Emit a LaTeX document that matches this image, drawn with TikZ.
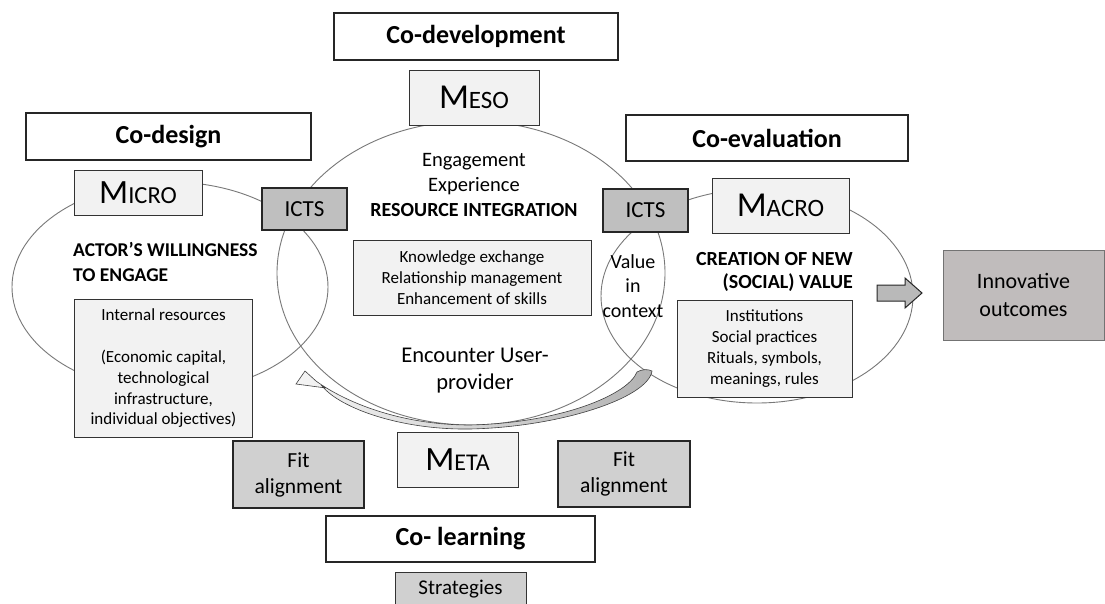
\documentclass[tikz,border=0pt]{standalone}
\usepackage{fontspec}
\setmainfont{Carlito}
\definecolor{lightbox}{RGB}{242,242,242}
\definecolor{ictsgray}{RGB}{191,191,191}
\definecolor{fitgray}{RGB}{208,208,208}
\definecolor{innogray}{RGB}{192,188,188}
\definecolor{ellgray}{RGB}{120,120,120}
\newcommand\lvltext[4]{{\fontsize{#1}{#1}\selectfont #3}{\fontsize{#2}{#2}\selectfont #4}}
\begin{document}
\begin{tikzpicture}[x=1pt,y=-1pt,
  hdr/.style={draw=black!85, line width=1.2pt, fill=white, inner sep=0pt, font=\fontsize{26}{30}\selectfont\bfseries},
  lvl/.style={draw=black!80, line width=1pt, fill=lightbox, inner sep=0pt},
  icts/.style={draw=black!85, line width=2.2pt, fill=ictsgray, inner sep=0pt, font=\fontsize{23}{26}\selectfont},
  info/.style={draw=black!80, line width=1pt, fill=lightbox, inner sep=0pt, align=center, font=\fontsize{17}{20.8}\selectfont},
  fitbox/.style={draw=black!85, line width=2pt, fill=fitgray, inner sep=0pt, align=center, font=\fontsize{21.5}{26}\selectfont},
  ell/.style={draw=ellgray, line width=0.9pt},
  plain/.style={inner sep=0pt, align=center}
]
\path[use as bounding box] (0,0) rectangle (1105,603);
\clip (0,0) rectangle (1105,603);
\fill[white] (0,0) rectangle (1105,603);

% ellipses
\draw[ell] (170,287) ellipse [x radius=158, y radius=105];
\draw[ell] (471,273) ellipse [x radius=194, y radius=152];
\draw[ell] (757,296) ellipse [x radius=156, y radius=107];

% curved band arrow
\shade[left color=gray!8, right color=gray!60, draw=black!75, line width=0.6pt]
  (652,371) .. controls (648,398) and (560,427) .. (470,429)
  .. controls (400,430) and (340,408) .. (322,386)
  -- (326,388) -- (296,384) -- (305,371) -- (316,381)
  .. controls (345,402) and (400,425) .. (470,425)
  .. controls (560,423) and (628,395) .. (637,372)
  .. controls (642,369) and (648,369) .. (652,371) -- cycle;

% header boxes
\node[hdr, minimum width=284, minimum height=47] (codev) at (476,36.5) {Co-development};
\node[hdr, minimum width=285, minimum height=47] (codesign) at (168.5,136.5) {Co-design};
\node[hdr, minimum width=282, minimum height=46] (coeval) at (767,138) {Co-evaluation};
\node[hdr, minimum width=269, minimum height=46] (colearn) at (460.5,539) {Co- learning};

% level boxes
\node[lvl, minimum width=130, minimum height=55] (meso) at (474,97.5) {\lvltext{35}{25}{M}{ESO}};
\node[lvl, minimum width=128, minimum height=45] (micro) at (138,192.5) {\lvltext{34}{24.5}{M}{ICRO}};
\node[lvl, minimum width=137, minimum height=55] (macro) at (780.5,205.5) {\lvltext{35}{25}{M}{ACRO}};
\node[lvl, minimum width=121, minimum height=55] (meta) at (457.5,459.5) {\lvltext{34}{24}{M}{ETA}};

% ICTS
\node[icts, minimum width=85, minimum height=42] (ictsL) at (304.5,209) {ICTS};
\node[icts, minimum width=85, minimum height=43] (ictsR) at (645.5,210.5) {ICTS};

% texts
\node[plain, anchor=west, align=left, font=\fontsize{19.5}{25}\selectfont\bfseries] (actor) at (73,262) {ACTOR’S WILLINGNESS\\TO ENGAGE};
\node[plain, font=\fontsize{20.5}{25}\selectfont] (engage) at (474,185) {Engagement\\Experience\\\textbf{\fontsize{20}{25}\selectfont RESOURCE INTEGRATION}};
\node[plain, font=\fontsize{22.5}{27}\selectfont] (encounter) at (475,371) {Encounter User-\\provider};
\node[plain, font=\fontsize{20}{24.5}\selectfont] (valctx) at (633,286) {Value\\in\\context};
\node[plain, anchor=east, align=right, font=\fontsize{20}{23}\selectfont\bfseries] (creation) at (853,271.5) {CREATION OF NEW\\(SOCIAL) VALUE};

% info boxes
\node[info, minimum width=178, minimum height=138] (internal) at (163.5,368.5) {Internal resources\\~\\(Economic capital,\\technological\\infrastructure,\\individual objectives)};
\node[info, minimum width=238, minimum height=75] (knowledge) at (472,277.5) {Knowledge exchange\\Relationship management\\Enhancement of skills};
\node[info, minimum width=175, minimum height=97] (institutions) at (764.5,348.5) {Institutions\\Social practices\\Rituals, symbols,\\meanings, rules};

% fit alignment
\node[fitbox, minimum width=131, minimum height=67] (fitL) at (298.5,474.5) {Fit\\alignment};
\node[fitbox, minimum width=132, minimum height=66] (fitR) at (624,474) {Fit\\alignment};

% strategies
\node[draw=black!80, line width=1pt, fill=fitgray, inner sep=0pt, minimum width=131, minimum height=50] (strat) at (460.5,597) {};
\node[plain, font=\fontsize{21}{24}\selectfont] (strattext) at (460.5,589) {Strategies};

% innovative outcomes
\node[draw=black!55, line width=1pt, fill=innogray, inner sep=0pt, minimum width=161, minimum height=90, align=center, font=\fontsize{22}{28}\selectfont] (innov) at (1023.5,295) {Innovative\\outcomes};

% block arrow
\draw[draw=black!85, line width=1pt, fill=gray!55] (877,285) -- (905,285) -- (905,278) -- (922,293) -- (905,308) -- (905,301) -- (877,301) -- cycle;
\end{tikzpicture}
\end{document}
